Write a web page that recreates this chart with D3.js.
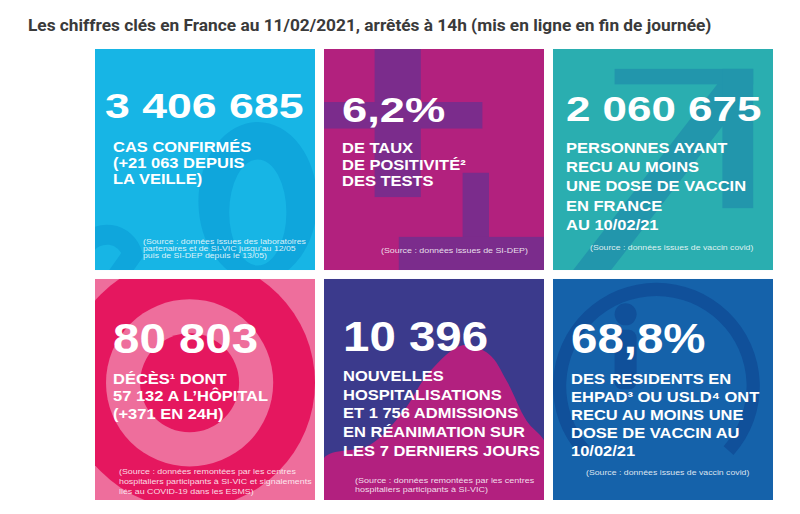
<!DOCTYPE html>
<html>
<head>
<meta charset="utf-8">
<script src="https://cdn.jsdelivr.net/npm/d3@7"></script>
<style>
  body { margin: 0; background: #fff; }
  svg { display: block; }
  .big { font-family: "Liberation Sans", Arial, sans-serif; font-weight: bold; fill: #fff; }
  .lab { font-family: "Liberation Sans", Arial, sans-serif; font-weight: bold; fill: #fff; }
  .src { font-family: "Liberation Sans", Arial, sans-serif; fill: #fff; fill-opacity: 0.85; }
</style>
</head>
<body>
<svg id="chart"></svg>
<script>
var svgw = 800
var svgh = 514

var titleText = "Les chiffres clés en France au 11/02/2021, arrêtés à 14h (mis en ligne en fin de journée)"

// key figures, one per tile
var keyNumbers = ["3 406 685", "6,2%", "2 060 675", "80 803", "10 396", "68,8%"]

var labelLines = [
    ["CAS CONFIRMÉS", "(+21 063 DEPUIS", "LA VEILLE)"],
    ["DE TAUX", "DE POSITIVITÉ²", "DES TESTS"],
    ["PERSONNES AYANT", "RECU AU MOINS", "UNE DOSE DE VACCIN", "EN FRANCE", "AU 10/02/21"],
    ["DÉCÈS¹ DONT", "57 132 A L’HÔPITAL", "(+371 EN 24H)"],
    ["NOUVELLES", "HOSPITALISATIONS", "ET 1 756 ADMISSIONS", "EN RÉANIMATION SUR", "LES 7 DERNIERS JOURS"],
    ["DES RESIDENTS EN", "EHPAD³ OU USLD⁴ ONT", "RECU AU MOINS UNE", "DOSE DE VACCIN AU", "10/02/21"]
]

var sourceLines = [
    ["(Source : données issues des laboratoires", "partenaires et de SI-VIC jusqu’au 12/05", "puis de SI-DEP depuis le 13/05)"],
    ["(Source : données issues de SI-DEP)"],
    ["(Source : données issues de vaccin covid)"],
    ["(Source : données remontées par les centres", "hospitaliers participants à SI-VIC et signalements", "liés au COVID-19 dans les ESMS)"],
    ["(Source : données remontées par les centres", "hospitaliers participants à SI-VIC)"],
    ["(Source : données issues de vaccin covid)"]
]

// look of each tile (colours, text placement inside the tile)
var tileStyle = [
    {fill: "#17b5e5", deco: "#0fa6dc", numSize: 36, numScale: 1.24, numX: 10, numY: 69, labX: 18, labY: 103, labGap: 16.2, srcX: 48, srcY: 195, srcGap: 7.2, srcSize: 7.6},
    {fill: "#b2217e", deco: "#7b2c8c", numSize: 36, numScale: 1.26, numX: 18, numY: 73, labX: 18, labY: 104, labGap: 16.5, srcX: 57, srcY: 204, srcGap: 7.2, srcSize: 7.7},
    {fill: "#2aaeb0", deco: "#2296ac", numSize: 36, numScale: 1.22, numX: 13, numY: 72, labX: 13, labY: 104, labGap: 19.2, srcX: 37, srcY: 201, srcGap: 7.2, srcSize: 7.6},
    {fill: "#ee6e9c", deco: "#e5175f", numSize: 42, numScale: 1.13, numX: 18, numY: 74, labX: 18, labY: 105, labGap: 17.5, srcX: 24, srcY: 195, srcGap: 10, srcSize: 7.7},
    {fill: "#3b3a8c", deco: "#b2207f", numSize: 42, numScale: 1.13, numX: 19, numY: 72, labX: 19, labY: 102, labGap: 18.7, srcX: 31, srcY: 204, srcGap: 9, srcSize: 7.8},
    {fill: "#1562aa", deco: "#10509a", numSize: 42, numScale: 1.13, numX: 18, numY: 74, labX: 18, labY: 105, labGap: 18, srcX: 33, srcY: 196, srcGap: 9, srcSize: 7.6}
]

var labSize = 15
var labScale = 1.1
var srcScale = 1.15

var svg = d3.select("#chart")
    .attr("width", svgw)
    .attr("height", svgh)

svg.append("text")
    .text(titleText)
    .attr("x", 28)
    .attr("y", 31)
    .style("font-family", "Roboto, 'Noto Sans', sans-serif")
    .style("font-weight", "bold")
    .style("font-size", "17.3px")
    .style("fill", "#3a3a3a")

var xBand = d3.scaleBand().domain([0, 1, 2]).range([95, 773]).paddingInner(0.0393)
var yBand = d3.scaleBand().domain([0, 1]).range([49, 500]).paddingInner(0.039)
var tw = xBand.bandwidth()
var th = yBand.bandwidth()

// tile local scales (0..1 -> pixels) used for the background pictograms
var lx = d3.scaleLinear().domain([0, 1]).range([0, tw])
var ly = d3.scaleLinear().domain([0, 1]).range([0, th])

var defs = svg.append("defs")
defs.append("clipPath").attr("id", "tileClip")
    .append("rect").attr("width", tw).attr("height", th)

var tiles = svg.selectAll("g.tile")
    .data(keyNumbers)
    .enter()
    .append("g")
    .classed("tile", true)
    .attr("transform", function(d, i) {
        return "translate(" + xBand(i % 3) + "," + yBand(Math.floor(i / 3)) + ")"
    })

tiles.append("rect")
    .attr("width", tw)
    .attr("height", th)
    .attr("fill", function(d, i) { return tileStyle[i].fill })

var deco = tiles.append("g").attr("clip-path", "url(#tileClip)")

function ellipsePath(cx, cy, rx, ry) {
    return "M" + (cx - rx) + "," + cy +
        " a" + rx + "," + ry + " 0 1 0 " + (2 * rx) + ",0" +
        " a" + rx + "," + ry + " 0 1 0 " + (-2 * rx) + ",0Z"
}

var decorate = [
    // "20" digits
    function(g, st) {
        g.append("path")
            .attr("fill", st.deco)
            .attr("fill-rule", "evenodd")
            .attr("d", ellipsePath(lx(0.74), ly(0.69), lx(0.27), ly(0.36)) + ellipsePath(lx(0.74), ly(0.74), lx(0.13), ly(0.24)))
        g.append("path")
            .attr("fill", "none")
            .attr("stroke", st.deco)
            .attr("stroke-width", 20)
            .attr("d", "M" + lx(-0.05) + "," + ly(0.9) + " A" + lx(0.12) + "," + ly(0.12) + " 0 0 1 " + lx(0.17) + "," + ly(0.93) + " L" + lx(0.05) + "," + ly(1.1))
    },
    // two plus signs
    function(g, st) {
        var bars = [[0.23, 0, 0.21, 0.67], [0, 0.24, 0.72, 0.12], [0.63, 0.56, 0.12, 0.44], [0.34, 0.85, 0.66, 0.15]]
        g.selectAll("rect").data(bars).enter().append("rect")
            .attr("x", function(b) { return lx(b[0]) })
            .attr("y", function(b) { return ly(b[1]) })
            .attr("width", function(b) { return lx(b[2]) })
            .attr("height", function(b) { return ly(b[3]) })
            .attr("fill", st.deco)
    },
    // rising arrow
    function(g, st) {
        g.append("path")
            .attr("fill", "none")
            .attr("stroke", st.deco)
            .attr("stroke-width", 30)
            .attr("d", "M" + lx(0.1) + "," + ly(1.1) + " L" + lx(0.84) + "," + ly(0.15))
        g.append("rect").attr("x", lx(0.28)).attr("y", ly(0.09)).attr("width", lx(0.63)).attr("height", ly(0.07)).attr("fill", st.deco)
        g.append("rect").attr("x", lx(0.77)).attr("y", ly(0.09)).attr("width", lx(0.14)).attr("height", ly(0.63)).attr("fill", st.deco)
    },
    // target circles
    function(g, st) {
        var rings = [[0.57, st.deco], [0.38, st.fill], [0.225, st.deco]]
        g.selectAll("circle").data(rings).enter().append("circle")
            .attr("cx", lx(0.43))
            .attr("cy", ly(0.47))
            .attr("r", function(r) { return lx(r[0]) })
            .attr("fill", function(r) { return r[1] })
    },
    // epidemic curve
    function(g, st) {
        var pts = [[0, 0.81], [0.21, 0.75], [0.36, 0.6], [0.48, 0.42], [0.63, 0.3], [0.75, 0.34], [0.83, 0.46], [0.92, 0.64], [1.01, 0.75], [1.01, 1.01], [0, 1.01]]
        g.append("path")
            .attr("fill", st.deco)
            .attr("d", d3.line().x(function(p) { return lx(p[0]) }).y(function(p) { return ly(p[1]) }).curve(d3.curveCatmullRomClosed)(pts))
    },
    // speech bubble with figure
    function(g, st) {
        g.append("path")
            .attr("transform", "translate(" + lx(0.47) + "," + ly(0.485) + ")")
            .attr("fill", st.deco)
            .attr("d", d3.arc().innerRadius(lx(0.41)).outerRadius(lx(0.47)).startAngle(-2.3).endAngle(2.3)())
        g.append("circle").attr("cx", lx(0.33)).attr("cy", ly(0.16)).attr("r", 11).attr("fill", st.deco)
        g.append("rect").attr("x", lx(0.28)).attr("y", ly(0.23)).attr("width", lx(0.1)).attr("height", ly(0.27)).attr("rx", 8).attr("fill", st.deco)
    }
]

deco.each(function(d, i) { decorate[i](d3.select(this), tileStyle[i]) })

// big figure
tiles.append("text")
    .classed("big", true)
    .text(function(d) { return d })
    .attr("transform", function(d, i) {
        var st = tileStyle[i]
        return "translate(" + st.numX + "," + st.numY + ") scale(" + st.numScale + ",1)"
    })
    .style("font-size", function(d, i) { return tileStyle[i].numSize + "px" })

// caption lines and sources
tiles.each(function(d, i) {
    var st = tileStyle[i]
    d3.select(this).selectAll("text.lab")
        .data(labelLines[i])
        .enter()
        .append("text")
        .classed("lab", true)
        .text(function(t) { return t })
        .attr("transform", function(t, j) {
            return "translate(" + st.labX + "," + (st.labY + j * st.labGap) + ") scale(" + labScale + ",1)"
        })
        .style("font-size", labSize + "px")

    d3.select(this).selectAll("text.src")
        .data(sourceLines[i])
        .enter()
        .append("text")
        .classed("src", true)
        .text(function(t) { return t })
        .attr("transform", function(t, j) {
            return "translate(" + st.srcX + "," + (st.srcY + j * st.srcGap) + ") scale(" + srcScale + ",1)"
        })
        .style("font-size", st.srcSize + "px")
})
</script>
</body>
</html>
